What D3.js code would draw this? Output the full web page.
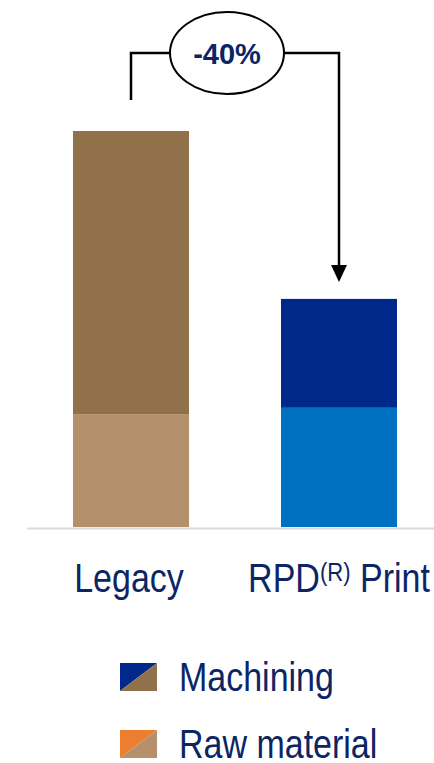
<!DOCTYPE html>
<html>
<head>
<meta charset="utf-8">
<script src="https://cdn.jsdelivr.net/npm/d3@7"></script>
<style>
  html, body { margin: 0; padding: 0; background: #fff; }
  svg { display: block; }
  text { font-family: "Liberation Sans", Arial, sans-serif; }
</style>
</head>
<body>
<svg id="chart" width="434" height="763"></svg>
<script>
// chart data
const categories = ["Legacy", "RPD"];
const rawMaterial = [28.5, 30.1];
const machining = [71.5, 27.5];
const changeLabel = "-40%";
const legendItems = ["Machining", "Raw material"];

const width = 434, height = 763;
const baseY = 527;
const barWidth = 116;
const textColor = "#0b2565";
const narrow = 0.85; // the source font is a narrow face, squeeze a regular one

// colours per bar: [raw, machining]
const barColors = {
    Legacy: ["#b4916a", "#91714a"],
    RPD: ["#0071c1", "#00288a"]
};

const svg = d3.select("#chart");

const x = d3.scalePoint()
    .domain(categories)
    .range([131, 339]);

const y = d3.scaleLinear()
    .domain([0, 100])
    .range([baseY, baseY - 396]);

// stacked segments
const rows = categories.map((c, i) => ({ cat: c, raw: rawMaterial[i], mach: machining[i] }));
const stack = d3.stack().keys(["raw", "mach"])(rows);

stack.forEach((layer, li) => {
    svg.append("g")
        .selectAll("rect")
        .data(layer)
        .enter().append("rect")
        .attr("x", d => x(d.data.cat) - barWidth / 2)
        .attr("width", barWidth)
        .attr("y", d => y(d[1]))
        .attr("height", d => y(d[0]) - y(d[1]))
        .attr("fill", d => barColors[d.data.cat][li]);
});

// baseline
svg.append("line")
    .attr("x1", 27).attr("x2", width)
    .attr("y1", baseY + 1.5).attr("y2", baseY + 1.5)
    .attr("stroke", "#d9d9d9")
    .attr("stroke-width", 2);

// text squeezed horizontally
function narrowText(px, py, anchor) {
    return svg.append("g")
        .attr("transform", `translate(${px},${py}) scale(${narrow},1)`)
        .append("text")
        .attr("text-anchor", anchor)
        .attr("fill", textColor)
        .style("font-size", "40px");
}

// category labels
const labelY = 592;
narrowText(x("Legacy") - 2, labelY, "middle").text("Legacy");

const rpdLabel = narrowText(x("RPD"), labelY, "middle");
rpdLabel.append("tspan").text("RPD");
rpdLabel.append("tspan")
    .attr("dy", -11)
    .style("font-size", "26px")
    .text("(R)");
rpdLabel.append("tspan")
    .attr("dy", 11)
    .text(" Print");

// change annotation
const totals = rows.map(r => r.raw + r.mach);
const topY = 53;
const leftX = x("Legacy"), rightX = x("RPD");
const ell = { cx: 227, rx: 57, ry: 41 };

svg.append("path")
    .attr("d", `M${leftX},${y(totals[0]) - 31} V${topY} H${ell.cx - ell.rx}`)
    .attr("fill", "none")
    .attr("stroke", "#000")
    .attr("stroke-width", 2.5);

svg.append("path")
    .attr("d", `M${ell.cx + ell.rx},${topY} H${rightX} V${y(totals[1]) - 32}`)
    .attr("fill", "none")
    .attr("stroke", "#000")
    .attr("stroke-width", 2.5);

// arrow head
const tipY = y(totals[1]) - 17;
svg.append("path")
    .attr("d", `M${rightX - 8},${tipY - 17} L${rightX + 8},${tipY - 17} L${rightX},${tipY} Z`)
    .attr("fill", "#000");

svg.append("ellipse")
    .attr("cx", ell.cx).attr("cy", topY)
    .attr("rx", ell.rx).attr("ry", ell.ry)
    .attr("fill", "#fff")
    .attr("stroke", "#000")
    .attr("stroke-width", 2);

svg.append("text")
    .attr("x", ell.cx)
    .attr("y", topY + 11)
    .attr("text-anchor", "middle")
    .attr("fill", textColor)
    .style("font-weight", "bold")
    .style("font-size", "29px")
    .text(changeLabel);

// legend
const legendColors = [["#00288a", "#91714a"], ["#ed7d31", "#b4916a"]];
legendItems.forEach((name, i) => {
    const ly = 663 + i * 67;
    const g = svg.append("g").attr("transform", `translate(120,${ly})`);
    g.append("path").attr("d", "M0,0 H37 L0,28 Z").attr("fill", legendColors[i][0]);
    g.append("path").attr("d", "M37,0 V28 H0 Z").attr("fill", legendColors[i][1]);
    narrowText(179, ly + 28, "start").text(name);
});
</script>
</body>
</html>
